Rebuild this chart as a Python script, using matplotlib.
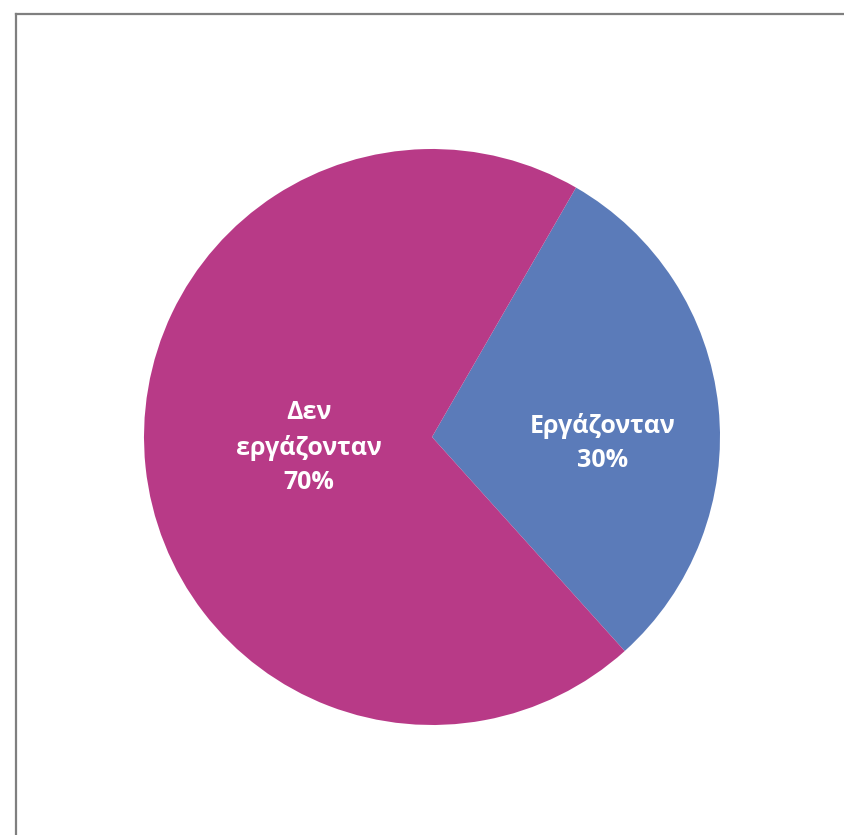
import numpy as np
import matplotlib.pyplot as plt

# données
categories = ["Εργάζονταν", "Δεν\nεργάζονταν"]
valeurs = [30, 70]
couleurs = ["#5B7BB9", "#B83A87"]

fig = plt.figure(figsize=(8.45, 8.35), dpi=100)

# cadre gris (haut et gauche)
fig.add_artist(plt.Line2D([16 / 845, 16 / 845], [0, 1 - 14 / 835], color="#7f7f7f", lw=1.6))
fig.add_artist(plt.Line2D([16 / 845, 1], [1 - 14 / 835, 1 - 14 / 835], color="#7f7f7f", lw=1.6))

# axe du camembert : centre (432, 437), rayon 288 px
cx, cy, r = 432, 437, 288
ax = fig.add_axes([(cx - r) / 845, (835 - cy - r) / 835, 2 * r / 845, 2 * r / 835])
wedges, _ = ax.pie(valeurs, colors=couleurs, startangle=60, counterclock=False,
                   radius=1, wedgeprops=dict(linewidth=0))
ax.set_xlim(-1, 1)
ax.set_ylim(-1, 1)
ax.set_aspect("equal")

# position des étiquettes (distance au centre, décalage angulaire)
dist = [0.594, 0.428]
decal = [-8, -1]
for w, cat, v, d, da in zip(wedges, categories, valeurs, dist, decal):
    theta = np.deg2rad((w.theta1 + w.theta2) / 2 + da)
    ax.text(d * np.cos(theta), d * np.sin(theta), f"{cat}\n{v}%", ha="center", va="center",
            color="white", fontsize=18, fontweight="bold", family="Open Sans", linespacing=1.5)

fig.savefig("out.png", dpi=100)
